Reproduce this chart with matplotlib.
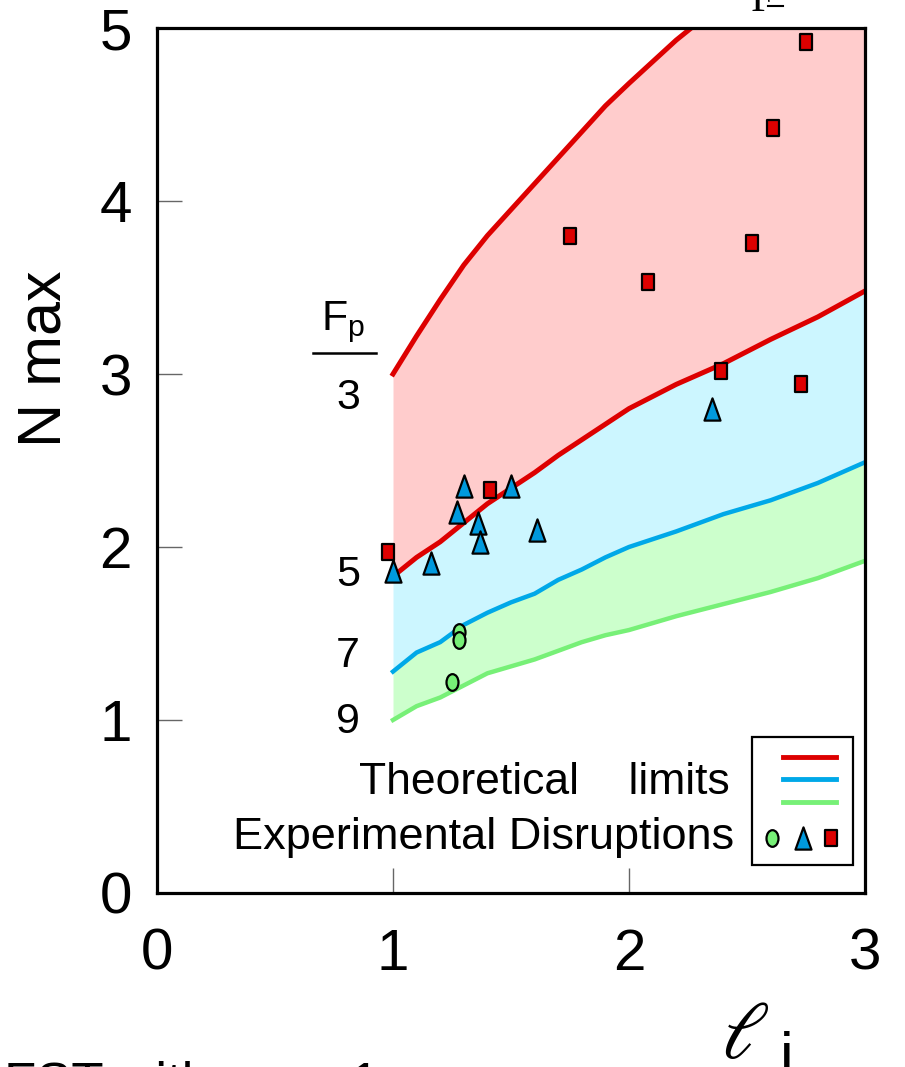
import numpy as np
import matplotlib
matplotlib.use('Agg')
import matplotlib.pyplot as plt
from matplotlib.path import Path
from matplotlib.transforms import Affine2D
from matplotlib.patches import Rectangle
from matplotlib.lines import Line2D

plt.rcParams['font.family'] = ['Liberation Sans', 'DejaVu Sans']

# theoretical limit curves, sampled on the same l_i grid
li = [1.0, 1.1, 1.2, 1.3, 1.4, 1.5, 1.6, 1.7, 1.8, 1.9, 2.0, 2.2, 2.4, 2.6, 2.8, 3.0]
fp3 = [3.00, 3.22, 3.43, 3.63, 3.80, 3.95, 4.10, 4.25, 4.40, 4.55, 4.68, 4.93, 5.15, 5.35, 5.55, 5.75]
fp5 = [1.83, 1.94, 2.03, 2.14, 2.25, 2.34, 2.43, 2.53, 2.62, 2.71, 2.80, 2.94, 3.06, 3.20, 3.33, 3.48]
fp7 = [1.28, 1.39, 1.45, 1.55, 1.62, 1.68, 1.73, 1.81, 1.87, 1.94, 2.00, 2.09, 2.19, 2.27, 2.37, 2.49]
fp9 = [1.00, 1.08, 1.13, 1.20, 1.27, 1.31, 1.35, 1.40, 1.45, 1.49, 1.52, 1.60, 1.67, 1.74, 1.82, 1.92]

# experimental disruptions
sq_x = [0.98, 1.41, 1.75, 2.08, 2.39, 2.52, 2.61, 2.75, 2.73]
sq_y = [1.97, 2.33, 3.80, 3.53, 3.02, 3.76, 4.42, 4.92, 2.94]
tri_x = [1.00, 1.16, 1.27, 1.30, 1.36, 1.37, 1.50, 1.61, 2.35]
tri_y = [1.86, 1.91, 2.20, 2.35, 2.14, 2.03, 2.35, 2.10, 2.80]
circ_x = [1.28, 1.28, 1.25]
circ_y = [1.51, 1.46, 1.22]

fp_labels = ['3', '5', '7', '9']
fp_label_y = [2.86, 1.84, 1.37, 0.99]

red = '#dd0000'
blue = '#00a8e8'
green = '#77f077'
tri_col = '#0099dd'

# custom marker shapes (a bit taller than wide, like the original)
tri_m = Path([(0, 1), (-0.72, -1), (0.72, -1), (0, 1)],
             [Path.MOVETO, Path.LINETO, Path.LINETO, Path.CLOSEPOLY])
sq_m = Path([(-0.4, -0.5), (0.4, -0.5), (0.4, 0.5), (-0.4, 0.5), (-0.4, -0.5)],
            [Path.MOVETO, Path.LINETO, Path.LINETO, Path.LINETO, Path.CLOSEPOLY])
circ_m = Affine2D().scale(0.72, 1.0).transform_path(Path.unit_circle())

fig = plt.figure(figsize=(9.05, 10.67), dpi=100)
ax = fig.add_axes([157/905, 174/1067, 708/905, 865/1067])

ax.fill_between(li, fp5, fp3, color='#ffcccc', lw=0)
ax.fill_between(li, fp7, fp5, color='#ccf6ff', lw=0)
ax.fill_between(li, fp9, fp7, color='#ccffcc', lw=0)

ax.plot(li, fp3, color=red, lw=3.6)
ax.plot(li, fp5, color=red, lw=3.6)
ax.plot(li, fp7, color=blue, lw=3.2)
ax.plot(li, fp9, color=green, lw=3.2)

ax.plot(circ_x, circ_y, ls='none', marker=circ_m, ms=12, mfc=green, mec='k', mew=1.6)
ax.plot(tri_x, tri_y, ls='none', marker=tri_m, ms=16, mfc=tri_col, mec='k', mew=1.6)
ax.plot(sq_x, sq_y, ls='none', marker=sq_m, ms=11.5, mfc=red, mec='k', mew=1.6)

# F_p annotation next to the curves
for lab, yy in zip(fp_labels, fp_label_y):
    ax.text(0.81, yy, lab, fontsize=31, ha='center', va='center')
ax.text(0.79, 3.30, r'F$_\mathregular{p}$', fontsize=31, ha='center', va='center')
ax.plot([0.66, 0.93], [3.12, 3.12], color='k', lw=1.8, clip_on=False)

ax.set_xlim(0, 3)
ax.set_ylim(0, 5)
ax.set_xticks([0, 1, 2, 3])
ax.set_yticks([0, 1, 2, 3, 4, 5])
ax.tick_params(direction='in', length=18, width=1, color='#666666',
               labelsize=42)
ax.tick_params(axis='x', pad=25)
ax.tick_params(axis='y', pad=18)
for s in ax.spines.values():
    s.set_linewidth(2.3)

# hand made legend
ax.add_patch(Rectangle((0.840, 0.032), 0.143, 0.148, transform=ax.transAxes,
                       fill=True, fc='white', ec='k', lw=1.6, zorder=5))
for yy, c in zip([0.157, 0.132, 0.105], [red, blue, green]):
    ax.add_line(Line2D([0.884, 0.959], [yy, yy], color=c, lw=3.5,
                       transform=ax.transAxes, zorder=6))
ax.plot([0.869], [0.0636], transform=ax.transAxes, marker=circ_m, ms=12,
        mfc=green, mec='k', mew=1.6, zorder=6)
ax.plot([0.912], [0.0636], transform=ax.transAxes, marker=tri_m, ms=16,
        mfc=tri_col, mec='k', mew=1.6, zorder=6)
ax.plot([0.952], [0.0636], transform=ax.transAxes, marker=sq_m, ms=11.5,
        mfc=red, mec='k', mew=1.6, zorder=6)
ax.text(0.809, 0.128, 'Theoretical    limits', transform=ax.transAxes,
        fontsize=32, ha='right', va='center')
ax.text(0.815, 0.0636, 'Experimental Disruptions', transform=ax.transAxes,
        fontsize=32.5, ha='right', va='center')

# axis labels
fig.text(45/905, 1 - 359/1067, 'N max', rotation=90, fontsize=44,
         ha='center', va='center')
fig.text(745/905, 1 - 1058/1067, r'$\ell$', fontsize=58, ha='center',
         va='baseline', math_fontfamily='stix')
fig.text(787/905, -8/1067, 'i', fontsize=44, ha='center', va='baseline')

# cropped bits of surrounding text
fig.text(0.004, -33/1067, 'FST with  τ  =  1', fontsize=38, ha='left', va='baseline')
fig.text(762/905, 1 - 11/1067, 'F', fontsize=30, ha='center', va='baseline',
         family='Liberation Serif')
fig.add_artist(Line2D([768/905, 783/905], [1 - 6/1067, 1 - 6/1067], color='k',
                      lw=1.5, transform=fig.transFigure))

fig.savefig('out.png', dpi=100)
